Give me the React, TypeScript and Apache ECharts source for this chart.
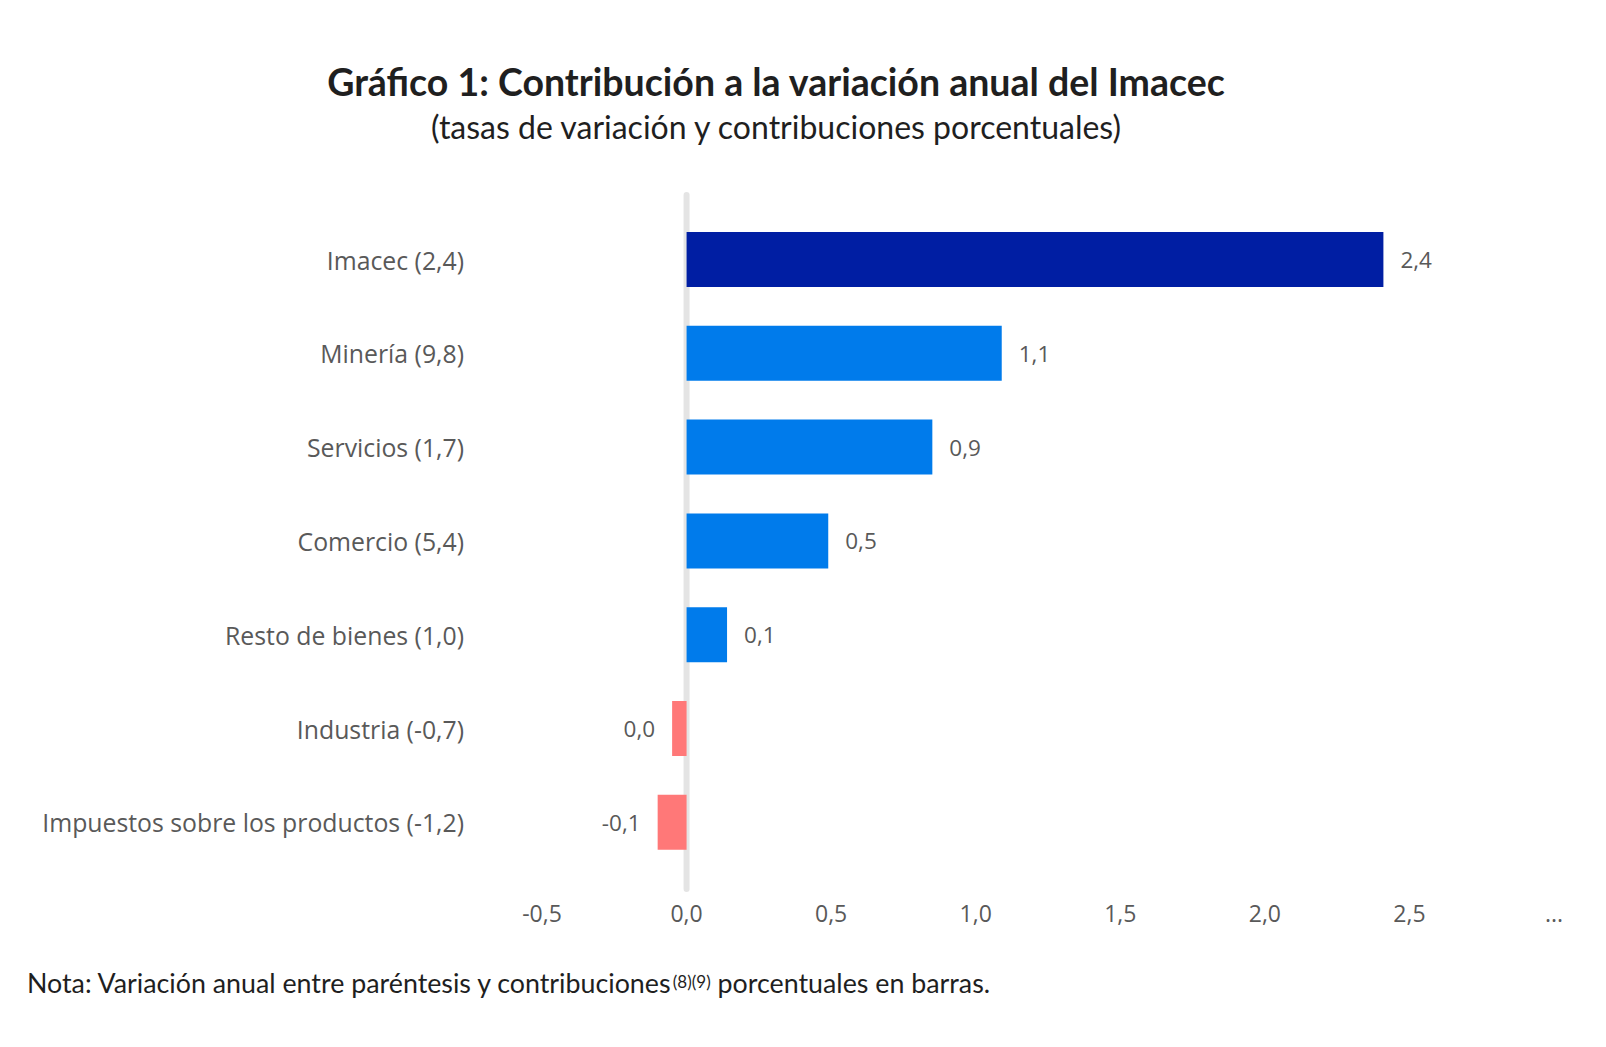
import React, { useEffect, useRef } from "react";
import * as echarts from "echarts";

const categories = [
  "Imacec (2,4)",
  "Minería (9,8)",
  "Servicios (1,7)",
  "Comercio (5,4)",
  "Resto de bienes (1,0)",
  "Industria (-0,7)",
  "Impuestos sobre los productos (-1,2)",
];
const contributions = [2.41, 1.09, 0.85, 0.49, 0.14, -0.05, -0.1];
const valueLabels = ["2,4", "1,1", "0,9", "0,5", "0,1", "0,0", "-0,1"];
const barColors = ["#001EA3", "#007BEB", "#007BEB", "#007BEB", "#007BEB", "#FF7878", "#FF7878"];
const xMin = -0.5;
const xMax = 3;
const xInterval = 0.5;
const xTickLabels = ["-0,5", "0,0", "0,5", "1,0", "1,5", "2,0", "2,5", "..."];

const titleText = "Gráfico 1: Contribución a la variación anual del Imacec";
const subtitleText = "(tasas de variación y contribuciones porcentuales)";

export default function App() {
  const ref = useRef<HTMLDivElement>(null);
  useEffect(() => {
    if (!ref.current) return;
    const chart = echarts.init(ref.current, undefined, { renderer: "svg" });
    const labelColor = "#595959";
    chart.setOption({
      animation: false,
      backgroundColor: "#ffffff",
      grid: { left: 542, top: 212.6, width: 1012, height: 656.6, containLabel: false },
      xAxis: {
        type: "value",
        min: xMin,
        max: xMax,
        interval: xInterval,
        axisLine: { show: false },
        axisTick: { show: false },
        splitLine: { show: false },
        axisLabel: {
          margin: 32,
          color: labelColor,
          fontFamily: "Open Sans",
          fontSize: 23,
          formatter: (v: number) => xTickLabels[Math.round((v - xMin) / xInterval)] ?? "",
        },
      },
      yAxis: {
        type: "category",
        inverse: true,
        data: categories,
        axisLine: { show: false },
        axisTick: { show: false },
        splitLine: { show: false },
        axisLabel: {
          margin: 78,
          color: labelColor,
          fontFamily: "Open Sans",
          fontSize: 24.8,
        },
      },
      series: [
        {
          type: "bar",
          barWidth: 55,
          z: 3,
          data: contributions.map((v, i) => ({
            value: v,
            itemStyle: { color: barColors[i] },
            label: {
              show: true,
              position: v < 0 ? "left" : "right",
              distance: 17,
              formatter: valueLabels[i],
              color: labelColor,
              fontFamily: "Open Sans",
              fontSize: 22.5,
            },
          })),
        },
      ],
    });
    const x0 = chart.convertToPixel({ xAxisIndex: 0 }, 0) as number;
    chart.setOption({
      graphic: [
        {
          type: "line",
          z: 0,
          shape: { x1: x0, y1: 195, x2: x0, y2: 889 },
          style: { stroke: "#E4E4E4", lineWidth: 6, lineCap: "round" },
        },
        {
          type: "text",
          x: 776,
          y: 81,
          style: {
            text: titleText,
            fontFamily: "Lato",
            fontWeight: "bold",
            fontSize: 37.5,
            fill: "#1F1F1F",
            textAlign: "center",
            textVerticalAlign: "middle",
          },
        },
        {
          type: "text",
          x: 776,
          y: 126,
          style: {
            text: subtitleText,
            fontFamily: "Lato",
            fontSize: 32,
            fill: "#1F1F1F",
            textAlign: "center",
            textVerticalAlign: "middle",
          },
        },
        {
          type: "text",
          x: 27,
          y: 983,
          style: {
            text: "{m|Nota: Variación anual entre paréntesis y contribuciones}{s|(8)(9)}{m| porcentuales en barras.}",
            textVerticalAlign: "middle",
            rich: {
              m: { fontFamily: "Lato", fontSize: 26.8, fill: "#1F1F1F", color: "#1F1F1F", lineHeight: 34 },
              s: { fontFamily: "Lato", fontSize: 17, fill: "#1F1F1F", color: "#1F1F1F", lineHeight: 20, verticalAlign: "middle", padding: [0, 0, 3, 0] },
            },
          },
        },
      ],
    });
    return () => chart.dispose();
  }, []);
  return (
    <div
      ref={ref}
      style={{ position: "absolute", left: 0, top: 0, width: 1606, height: 1047 }}
    />
  );
}
